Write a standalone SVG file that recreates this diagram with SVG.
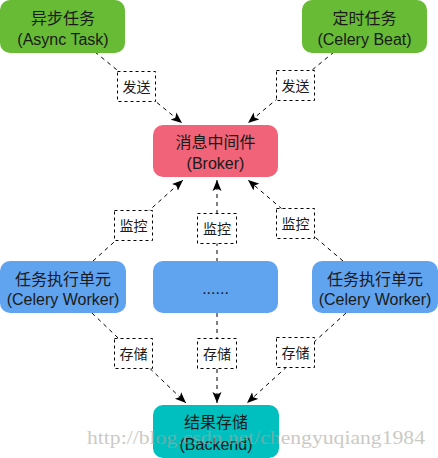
<svg xmlns="http://www.w3.org/2000/svg" width="438" height="458" viewBox="0 0 438 458">
<defs>
<marker id="arr" markerUnits="userSpaceOnUse" markerWidth="12" markerHeight="10" viewBox="0 0 12 10" refX="11" refY="5" orient="auto">
<path d="M0,0.5 L11,5 L0,9.5 L2.5,5 z" fill="#000"/>
</marker>
<style>
.node text{font-family:"Liberation Sans","Noto Sans CJK SC",sans-serif;font-size:16px;fill:#1a1a1a;text-anchor:middle}
.green{fill:#67bb35}
.pink{fill:#f06378}
.blue{fill:#60a3ef}
.teal{fill:#00bfbf}
.edge{stroke:#000;stroke-width:1;stroke-dasharray:4 4;fill:none}
.lbl rect{fill:#fff;stroke:#000;stroke-width:1;stroke-dasharray:3 3}
.lbl text{font-family:"Liberation Sans","Noto Sans CJK SC",sans-serif;font-size:14px;fill:#1a1a1a;text-anchor:middle}
.wm{font-family:"Liberation Serif",serif;font-size:18px;fill:#a8a8a0;opacity:0.6}
</style>
</defs>
<g id="connectors">
<line class="edge" x1="95" y1="52" x2="182" y2="123" marker-end="url(#arr)"/>
<line class="edge" x1="334" y1="52" x2="248" y2="123" marker-end="url(#arr)"/>
<line class="edge" x1="93" y1="261" x2="183" y2="180" marker-end="url(#arr)"/>
<line class="edge" x1="217" y1="262" x2="217" y2="180" marker-end="url(#arr)"/>
<line class="edge" x1="343" y1="261" x2="248" y2="180" marker-end="url(#arr)"/>
<line class="edge" x1="92" y1="313" x2="186" y2="403" marker-end="url(#arr)"/>
<line class="edge" x1="217" y1="313" x2="217" y2="403" marker-end="url(#arr)"/>
<line class="edge" x1="346" y1="313" x2="247" y2="403" marker-end="url(#arr)"/>
<g class="lbl"><rect x="117.5" y="71.5" width="38" height="30"/><text x="136.5" y="91.5">发送</text></g>
<g class="lbl"><rect x="276.5" y="70.5" width="38" height="30"/><text x="295.5" y="90.5">发送</text></g>
<g class="lbl"><rect x="114.5" y="210.5" width="38" height="30"/><text x="133.5" y="230.5">监控</text></g>
<g class="lbl"><rect x="197.5" y="213.5" width="39" height="30"/><text x="217" y="233.5">监控</text></g>
<g class="lbl"><rect x="276.5" y="208.5" width="38" height="30"/><text x="295.5" y="228.5">监控</text></g>
<g class="lbl"><rect x="114.5" y="338.5" width="38" height="30"/><text x="133.5" y="358.5">存储</text></g>
<g class="lbl"><rect x="197.5" y="338.5" width="39" height="30"/><text x="217" y="358.5">存储</text></g>
<g class="lbl"><rect x="276.5" y="337.5" width="38" height="30"/><text x="295.5" y="357.5">存储</text></g>
</g>
<g id="async" class="node"><rect class="green" x="0" y="0" width="125" height="53" rx="10"/><text x="63" y="24">异步任务</text><text x="63" y="45">(Async Task)</text></g>
<g id="beat" class="node"><rect class="green" x="302" y="0" width="125" height="53" rx="10"/><text x="364.5" y="24">定时任务</text><text x="364.5" y="45">(Celery Beat)</text></g>
<g id="broker" class="node"><rect class="pink" x="153" y="125" width="125" height="52" rx="10"/><text x="215.5" y="148">消息中间件</text><text x="215.5" y="169">(Broker)</text></g>
<g id="worker1" class="node"><rect class="blue" x="0" y="261" width="126" height="52" rx="10"/><text x="63" y="285">任务执行单元</text><text x="63" y="305">(Celery Worker)</text></g>
<g id="more" class="node"><rect class="blue" x="153" y="261" width="125" height="52" rx="10"/><text x="215.5" y="294">......</text></g>
<g id="worker2" class="node"><rect class="blue" x="312" y="261" width="126" height="52" rx="10"/><text x="375" y="285">任务执行单元</text><text x="375" y="305">(Celery Worker)</text></g>
<g id="backend" class="node"><rect class="teal" x="153" y="405" width="126" height="53" rx="10"/><text x="216" y="428">结果存储</text><text x="216" y="450">(Backend)</text></g>
<text class="wm" x="87" y="444" textLength="338" lengthAdjust="spacingAndGlyphs">http://blog.csdn.net/chengyuqiang1984</text>
</svg>
